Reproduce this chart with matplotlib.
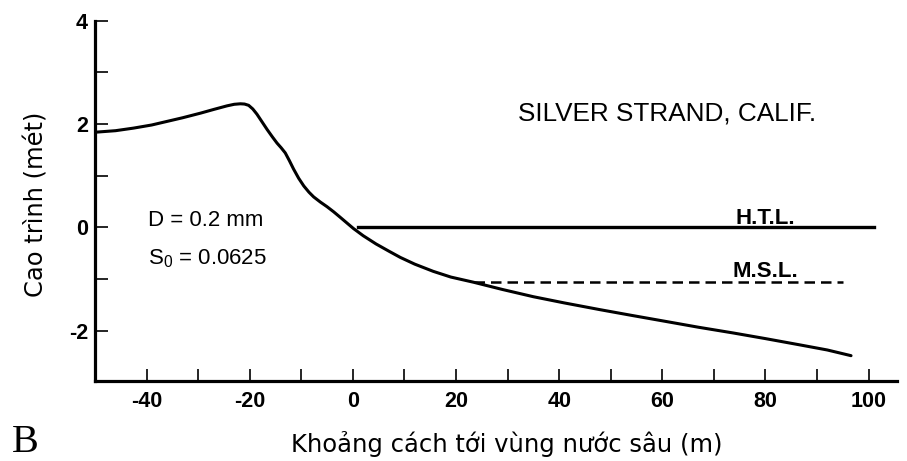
import matplotlib
matplotlib.use("Agg")
import matplotlib.pyplot as plt
from matplotlib.ticker import MultipleLocator

# Beach profile, Silver Strand, California
distance_m = [-50.0, -46.0, -42.5, -39.0, -36.0, -33.0, -29.5, -27.0, -24.4,
              -23.0, -21.8, -21.0, -20.2, -19.4, -18.6, -17.6, -16.6, -15.6,
              -14.7, -13.9, -13.1, -12.3, -11.5, -10.5, -9.5, -8.5, -7.6,
              -6.3, -5.0, -3.7, -2.5, -1.2, 0.1, 2.0, 4.5, 7.0, 9.2, 12.0,
              15.6, 19.0, 23.4, 29.0, 35.0, 41.0, 47.9, 54.0, 60.8, 67.0,
              73.7, 80.0, 86.6, 92.0, 96.6]
elevation_m = [1.84, 1.87, 1.92, 1.98, 2.05, 2.12, 2.21, 2.28, 2.35,
               2.38, 2.39, 2.385, 2.36, 2.29, 2.19, 2.04, 1.89, 1.75,
               1.63, 1.54, 1.44, 1.29, 1.13, 0.95, 0.80, 0.68, 0.59,
               0.49, 0.40, 0.30, 0.20, 0.09, -0.02, -0.16, -0.32, -0.46, -0.58, -0.71,
               -0.85, -0.96, -1.06, -1.20, -1.34, -1.46, -1.59, -1.70, -1.82, -1.93,
               -2.04, -2.15, -2.27, -2.37, -2.48]

# Tide levels
htl_level = 0.0
htl_range = [1.0, 101.0]
msl_level = -1.05
msl_range = [23.4, 95.0]

x_major = [-40, -20, 0, 20, 40, 60, 80, 100]
y_major = [-2, 0, 2, 4]

sans = "Liberation Sans"
plt.rcParams["mathtext.fontset"] = "custom"
plt.rcParams["mathtext.rm"] = sans
plt.rcParams["mathtext.it"] = sans

fig = plt.figure(figsize=(9.07, 4.61), dpi=100)
ax = fig.add_axes([0.1047, 0.1735, 0.8842, 0.782])

ax.plot(distance_m, elevation_m, color="black", lw=2.2,
        solid_capstyle="round", solid_joinstyle="round")
ax.plot(htl_range, [htl_level, htl_level], color="black", lw=2.4)
ax.plot(msl_range, [msl_level, msl_level], color="black", lw=1.8,
        linestyle=(0, (4.2, 2.4)))

ax.set_xlim(-50, 105.5)
ax.set_ylim(-2.97, 4)

for side in ("top", "right"):
    ax.spines[side].set_visible(False)
for side in ("left", "bottom"):
    ax.spines[side].set_linewidth(2.3)

ax.set_xticks(x_major)
ax.set_xticklabels([str(v) for v in x_major])
ax.set_yticks(y_major)
ax.set_yticklabels([str(v) for v in y_major])
ax.xaxis.set_minor_locator(MultipleLocator(10))
ax.yaxis.set_minor_locator(MultipleLocator(1))
ax.tick_params(which="both", direction="in", length=9, width=1.2, color="black")
ax.tick_params(axis="x", which="major", pad=7)
ax.tick_params(axis="y", which="major", pad=5)
for lab in ax.get_xticklabels() + ax.get_yticklabels():
    lab.set_fontfamily(sans)
    lab.set_fontweight("bold")
    lab.set_fontsize(15.5)

ax.text(61.0, 2.21, "SILVER STRAND, CALIF.", family=sans, fontsize=18.8,
        ha="center", va="center")
ax.text(80.0, 0.06, "H.T.L.", family=sans, fontsize=16, fontweight="bold",
        ha="center", va="baseline")
ax.text(80.0, -0.96, "M.S.L.", family=sans, fontsize=16, fontweight="bold",
        ha="center", va="baseline")
ax.text(-39.8, 0.02, "D = 0.2 mm", family=sans, fontsize=16,
        ha="left", va="baseline")
ax.text(-39.8, -0.72, r"S$_0$ = 0.0625", family=sans, fontsize=16,
        ha="left", va="baseline")

fig.text(37 / 907, 1 - 204 / 461, "Cao trình (mét)", family="DejaVu Sans",
         fontsize=17.4, rotation=90, ha="center", va="center")
fig.text(506.5 / 907, 1 - 452 / 461, "Khoảng cách tới vùng nước sâu (m)",
         family="DejaVu Sans", fontsize=17.5, ha="center", va="baseline")
fig.text(25 / 907, 1 - 452 / 461, "B", family="Liberation Serif",
         fontsize=29, ha="center", va="baseline")

fig.savefig("out.png", dpi=100)
